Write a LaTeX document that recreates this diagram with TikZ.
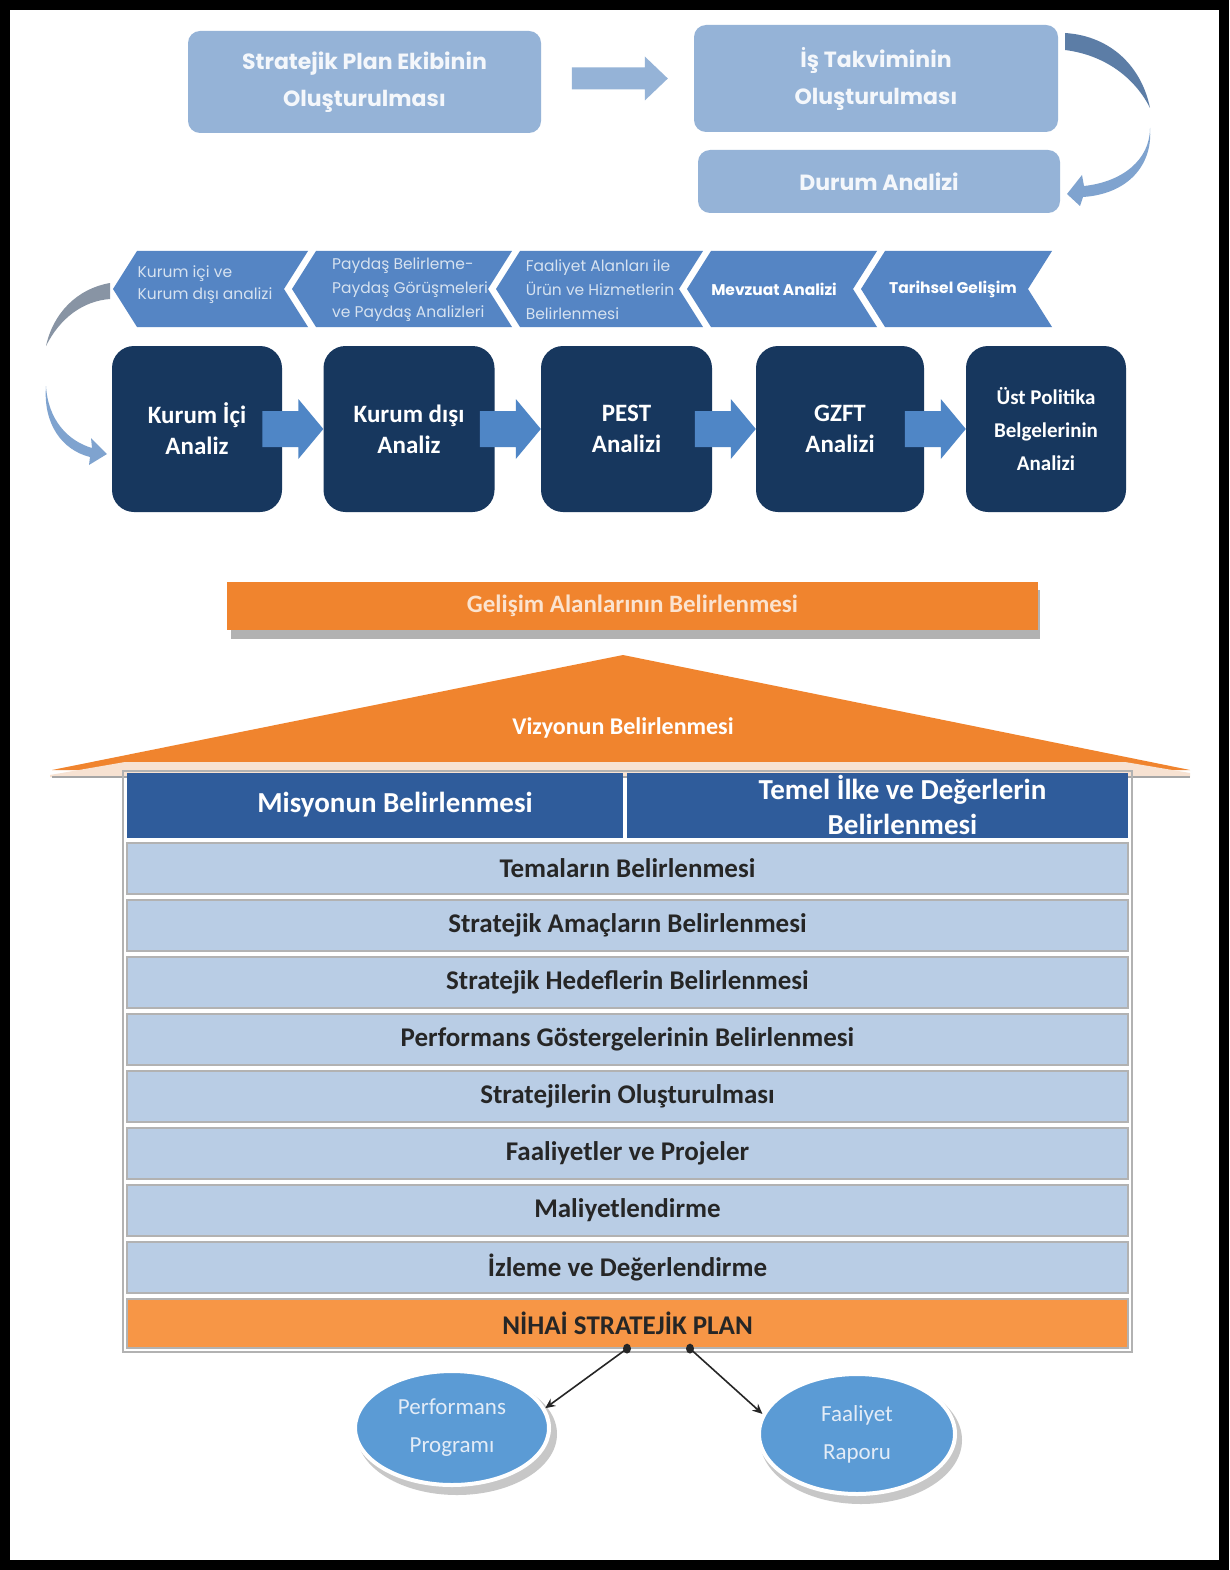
\documentclass[tikz,border=0pt]{standalone}
\usepackage{fontspec}
\setmainfont{Carlito}
\newfontfamily\gothic{Poppins}
\usetikzlibrary{arrows.meta, positioning, shapes.geometric}

\definecolor{topblue}{HTML}{95B3D7}
\definecolor{topfont}{HTML}{F4F7FB}
\definecolor{topdark}{HTML}{5C7DA6}
\definecolor{curvelight}{HTML}{7FA3CF}
\definecolor{curvegray}{HTML}{8894A4}
\definecolor{chevblue}{HTML}{5585C4}
\definecolor{chevfont}{HTML}{D6E2F0}
\definecolor{navy}{HTML}{17375E}
\definecolor{arrowblue}{HTML}{4F86C6}
\definecolor{orangeA}{HTML}{F0842E}
\definecolor{orangetext}{HTML}{FBE3CF}
\definecolor{eave}{HTML}{F7E2D2}
\definecolor{rowdark}{HTML}{2F5C9B}
\definecolor{rowlight}{HTML}{B9CDE5}
\definecolor{nihaiorange}{HTML}{F79646}
\definecolor{ellblue}{HTML}{5B9BD5}
\definecolor{bubbletext}{HTML}{E3ECF7}

\begin{document}
\begin{tikzpicture}[x=1pt, y=-1pt,
    topbox/.style={fill=topblue, rounded corners=12pt, text=topfont, align=center, inner sep=0pt,
      font=\gothic\bfseries\fontsize{22}{37}\selectfont},
    chevron/.style={fill=chevblue},
    chevtext/.style={text=chevfont, align=left, inner sep=0pt, font=\gothic\fontsize{15.5}{24}\selectfont},
    chevbold/.style={text=white, inner sep=0pt, font=\gothic\bfseries\fontsize{15.5}{24}\selectfont},
    navybox/.style={fill=navy, rounded corners=22pt, text=white, align=center, minimum height=166pt,
      inner sep=0pt, font=\bfseries\fontsize{25}{31}\selectfont},
    blockarrow/.style={fill=arrowblue},
    rowbox/.style={draw=gray!60, line width=1.2pt, fill=rowlight, minimum width=1001pt, minimum height=51pt,
      inner sep=0pt, text=black!85, font=\bfseries\fontsize{27}{30}\selectfont},
    darkcell/.style={fill=rowdark, minimum height=65pt, inner sep=0pt, text=white, align=center,
      font=\bfseries\fontsize{29}{35}\selectfont},
    bubble/.style={ellipse, draw=white, line width=4pt, fill=ellblue, inner sep=0pt, text=bubbletext,
      align=center, font=\fontsize{23}{38}\selectfont},
    plain arrow/.style={-{Stealth[length=10pt,width=9pt]}, line width=1.6pt, black!85}]

	% Page and frame
	\useasboundingbox (0,0) rectangle (1229,1570);
	\fill[white] (0,0) rectangle (1229,1570);
	\draw[line width=10pt] (5,5) rectangle (1224,1565);

	% Draw the three boxes at the top
	\node[topbox, minimum width=353pt, minimum height=102pt] (ekip) at (364.5,82) {Stratejik Plan Ekibinin\\Oluşturulması};
	\node[topbox, minimum width=364pt, minimum height=107pt] (takvim) at (876,78.5) {İş Takviminin\\Oluşturulması};
	\node[topbox, minimum width=362pt, minimum height=63pt] (durum) at (879,181.5) {Durum Analizi};

	% Arrow between the first two boxes
	\fill[topblue] ([xshift=-26pt]takvim.west) -- ++(-23,-22) -- ++(0,11) -- ++(-73,0) -- ++(0,22) -- ++(73,0) -- ++(0,11) -- cycle;

	% Curved arrow on the right
	\fill[topdark] (1065,33) .. controls (1112,36) and (1142,68) .. (1150,108) .. controls (1135,78) and (1105,55) .. (1065,50) -- cycle;
	\fill[curvelight] (1150,128) .. controls (1150,160) and (1122,182) .. (1084,186) -- (1082,175) -- (1067,194) -- (1080,206) -- (1083,197) .. controls (1128,194) and (1153,165) .. (1150,128) -- cycle;

	% Draw the chevrons
	\foreach \t/\r in {113/308, 292/512, 496/703, 687/877, 861/1052}
		\fill[chevron] (\t,289) -- (\t+24,251) -- (\r,251) -- (\r-24,289) -- (\r,327) -- (\t+24,327) -- cycle;

	\node[chevtext, font=\gothic\fontsize{15.5}{22}\selectfont] (chev1) at (205,285) {Kurum içi ve\\Kurum dışı analizi};
	\node[chevtext] (chev2) at (410,290) {Paydaş Belirleme-\\Paydaş Görüşmeleri\\ve Paydaş Analizleri};
	\node[chevtext] (chev3) at (600,290) {Faaliyet Alanları ile\\Ürün ve Hizmetlerin\\Belirlenmesi};
	\node[chevbold] (chev4) at (774,289) {Mevzuat Analizi};
	\node[chevbold] (chev5) at (953,289) {Tarihsel Gelişim};

	% Curved arrow on the left
	\fill[curvegray] (110,283) .. controls (76,289) and (53,314) .. (46,346) .. controls (60,318) and (83,301) .. (110,299) -- cycle;
	\fill[curvelight] (46,386) .. controls (48,420) and (68,441) .. (92,448) -- (91,438) -- (107,454) -- (89,465) -- (90,457) .. controls (62,450) and (43,424) .. (46,386) -- cycle;

	% Draw the analysis boxes
	\node[navybox, minimum width=170pt] (kic) at (197,429) {Kurum İçi\\Analiz};
	\node[navybox, minimum width=171pt] (kdis) at (409,429) {Kurum dışı\\Analiz};
	\node[navybox, minimum width=171pt] (pest) at (626.5,429) {PEST\\Analizi};
	\node[navybox, minimum width=168pt] (gzft) at (840,429) {GZFT\\Analizi};
	\node[navybox, minimum width=160pt, font=\bfseries\fontsize{21}{33}\selectfont] (ust) at (1046,429) {Üst Politika\\Belgelerinin\\Analizi};

	% Block arrows between the boxes
	\foreach \b in {kdis, pest, gzft, ust}
		\fill[blockarrow] (\b.west) -- ++(-25,-30) -- ++(0,12) -- ++(-36,0) -- ++(0,36) -- ++(36,0) -- ++(0,12) -- cycle;

	% Orange bar
	\fill[black!30] (231,590) rectangle (1040,639);
	\node[fill=orangeA, minimum width=811pt, minimum height=48pt, inner sep=0pt, text=orangetext,
		font=\bfseries\fontsize{25}{30}\selectfont] (gelisim) at (632.5,606) {Gelişim Alanlarının Belirlenmesi};

	% Roof
	\fill[orangeA] (623,655) -- (1190,770) -- (52,770) -- cycle;
	\fill[eave] (50,775) -- (125,762) -- (1125,762) -- (1190,773) -- (1190,777) -- (50,777) -- cycle;
	\draw[gray!70, line width=1.2pt] (52,777) -- (1190,777);
	\node[text=white, font=\bfseries\fontsize{24}{28}\selectfont] (vizyon) at (623,728) {Vizyonun Belirlenmesi};

	% Table of steps
	\draw[gray!60, line width=1.5pt] (123,771) rectangle (1132,1352);
	\node[darkcell, minimum width=496pt] (misyon) at (375,805) {\hspace*{40pt}Misyonun Belirlenmesi};
	\node[darkcell, minimum width=501pt] (ilke) at (877.5,805) {\hspace*{50pt}Temel İlke ve Değerlerin\\\hspace*{50pt}Belirlenmesi};

	\foreach \txt [count=\i from 0] in {Temaların Belirlenmesi, Stratejik Amaçların Belirlenmesi,
			Stratejik Hedeflerin Belirlenmesi, Performans Göstergelerinin Belirlenmesi,
			Stratejilerin Oluşturulması, Faaliyetler ve Projeler, Maliyetlendirme, İzleme ve Değerlendirme}
		\node[rowbox] (row\i) at (627.5,{868.5+57*\i}) {\txt};

	\node[rowbox, fill=nihaiorange, minimum height=49pt] (nihai) at (627.5,1323.5) {NİHAİ STRATEJİK PLAN};

	% Outputs of the plan
	\coordinate (d1) at ([xshift=-0.5pt]nihai.south);
	\coordinate (d2) at ([xshift=62.5pt]nihai.south);

	\fill[black!22] (457,1434) ellipse [x radius=100pt, y radius=61pt];
	\node[bubble, minimum width=194pt, minimum height=114pt] (perf) at (452,1428) {Performans\\Programı};
	\fill[black!22] (861,1440) ellipse [x radius=101pt, y radius=64pt];
	\node[bubble, minimum width=196pt, minimum height=120pt] (rapor) at (857,1434) {Faaliyet\\Raporu};

	\draw[plain arrow] (d1) -- (perf.12);
	\draw[plain arrow] (d2) -- (rapor.168);
	\fill[black!85] (d1) ellipse [x radius=4pt, y radius=5pt];
	\fill[black!85] (d2) ellipse [x radius=4pt, y radius=5pt];
\end{tikzpicture}
\end{document}
